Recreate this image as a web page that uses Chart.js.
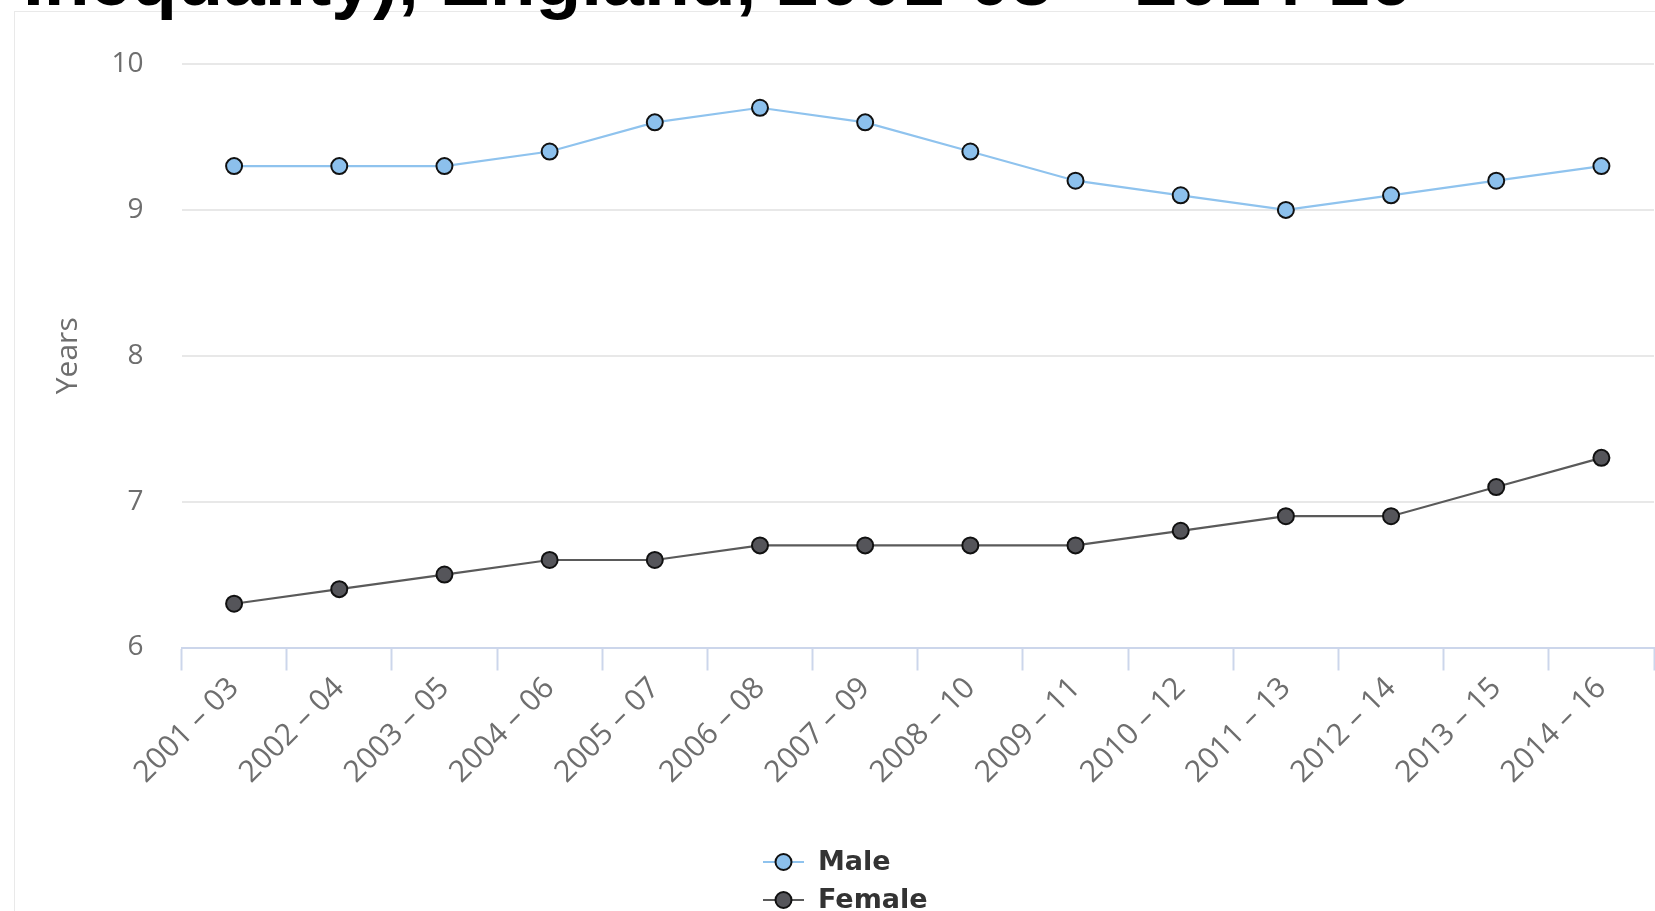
<!DOCTYPE html>
<html>
<head>
<meta charset="utf-8">
<script src="https://cdn.jsdelivr.net/npm/chart.js@4/dist/chart.umd.min.js"></script>
<style>
  html, body { margin: 0; padding: 0; background: #fff; overflow: hidden; }
  #frame { position: absolute; left: 14px; top: 11px; width: 1800px; height: 1000px;
           border: 1px solid #e9e9e9; box-sizing: border-box; }
  #heading { position: absolute; left: 23px; top: -58px; margin: 0; white-space: nowrap;
             font: bold 75px/75px "Liberation Sans", Arial, sans-serif; color: #000; z-index: 2; }
  #chart { position: absolute; left: 0; top: 0; z-index: 1; }
</style>
</head>
<body>
<div id="frame"></div>
<div id="heading">Inequality), England, 2001-03 – 2014-16</div>
<canvas id="chart" width="1655" height="911"></canvas>
<script>
// Three-year reporting periods
const periods = ['2001 – 03', '2002 – 04', '2003 – 05', '2004 – 06', '2005 – 07', '2006 – 08', '2007 – 09',
                 '2008 – 10', '2009 – 11', '2010 – 12', '2011 – 13', '2012 – 14', '2013 – 15', '2014 – 16'];
// Gap in years, by sex
const maleYears   = [9.3, 9.3, 9.3, 9.4, 9.6, 9.7, 9.6, 9.4, 9.2, 9.1, 9.0, 9.1, 9.2, 9.3];
const femaleYears = [6.3, 6.4, 6.5, 6.6, 6.6, 6.7, 6.7, 6.7, 6.7, 6.8, 6.9, 6.9, 7.1, 7.3];
// Value axis
const yMin = 6, yMax = 10, yStep = 1;
const yTitle = 'Years';

const fontFamily = '"Open Sans", "Noto Sans", sans-serif';
const axisColor = '#6e6e6e';

// Two-row legend under the axis, each row: line, marker, bold label
const stackedLegend = {
  id: 'stackedLegend',
  afterDraw(chart) {
    const ctx = chart.ctx;
    const x0 = 763, x1 = 804, mx = 783.5, tx = 818;
    const rowY = [862, 900];
    ctx.save();
    chart.data.datasets.forEach((ds, i) => {
      const y = rowY[i];
      ctx.strokeStyle = ds.borderColor;
      ctx.lineWidth = 2;
      ctx.beginPath(); ctx.moveTo(x0, y); ctx.lineTo(x1, y); ctx.stroke();
      ctx.beginPath(); ctx.arc(mx, y, 8, 0, Math.PI * 2);
      ctx.fillStyle = ds.pointBackgroundColor; ctx.fill();
      ctx.lineWidth = 2; ctx.strokeStyle = ds.pointBorderColor; ctx.stroke();
      ctx.fillStyle = '#333333';
      ctx.font = 'bold 27px "DejaVu Sans", sans-serif';
      ctx.textAlign = 'left'; ctx.textBaseline = 'middle';
      ctx.fillText(ds.label, tx, y + 1);
    });
    ctx.restore();
  }
};

new Chart(document.getElementById('chart'), {
  type: 'line',
  data: {
    labels: periods,
    datasets: [
      { label: 'Male', data: maleYears, borderColor: '#8fc3ee', borderWidth: 2.2,
        pointBackgroundColor: '#8cc0ec', pointBorderColor: '#111111', pointBorderWidth: 2,
        pointRadius: 8, pointHoverRadius: 8, tension: 0 },
      { label: 'Female', data: femaleYears, borderColor: '#5a5a5a', borderWidth: 2.2,
        pointBackgroundColor: '#55555a', pointBorderColor: '#111111', pointBorderWidth: 2,
        pointRadius: 8, pointHoverRadius: 8, tension: 0 }
    ]
  },
  options: {
    responsive: false,
    animation: false,
    layout: { autoPadding: false, padding: { left: 0, top: 64, right: 1, bottom: 0 } },
    plugins: { legend: { display: false }, tooltip: { enabled: false }, title: { display: false } },
    scales: {
      x: {
        type: 'category',
        offset: true,
        grid: { display: true, offset: true, drawOnChartArea: false, drawTicks: true,
                tickLength: 23, tickWidth: 2, tickColor: '#ccd6eb', color: '#ccd6eb' },
        border: { display: true, color: '#ccd6eb', width: 2 },
        ticks: { minRotation: 45, maxRotation: 45, autoSkip: false, padding: 0,
                 font: { family: fontFamily, size: 30 }, color: axisColor },
        afterFit(scale) {
          scale.height = 911 - 647.5;
          scale.paddingLeft = 0;
          scale.paddingRight = 0;
        }
      },
      y: {
        min: yMin, max: yMax,
        grid: { color: c => (c.tick && c.tick.value === yMin) ? 'rgba(0,0,0,0)' : '#e8e8e8',
                lineWidth: 2, drawTicks: false },
        border: { display: false },
        ticks: { stepSize: yStep, padding: 38, font: { family: fontFamily, size: 28 }, color: axisColor },
        title: { display: true, text: yTitle, font: { family: fontFamily, size: 30 }, color: axisColor,
                 padding: { top: 50, bottom: 0 } },
        afterFit(scale) { scale.width = 181.5; }
      }
    }
  },
  plugins: [stackedLegend]
});
</script>
</body>
</html>
